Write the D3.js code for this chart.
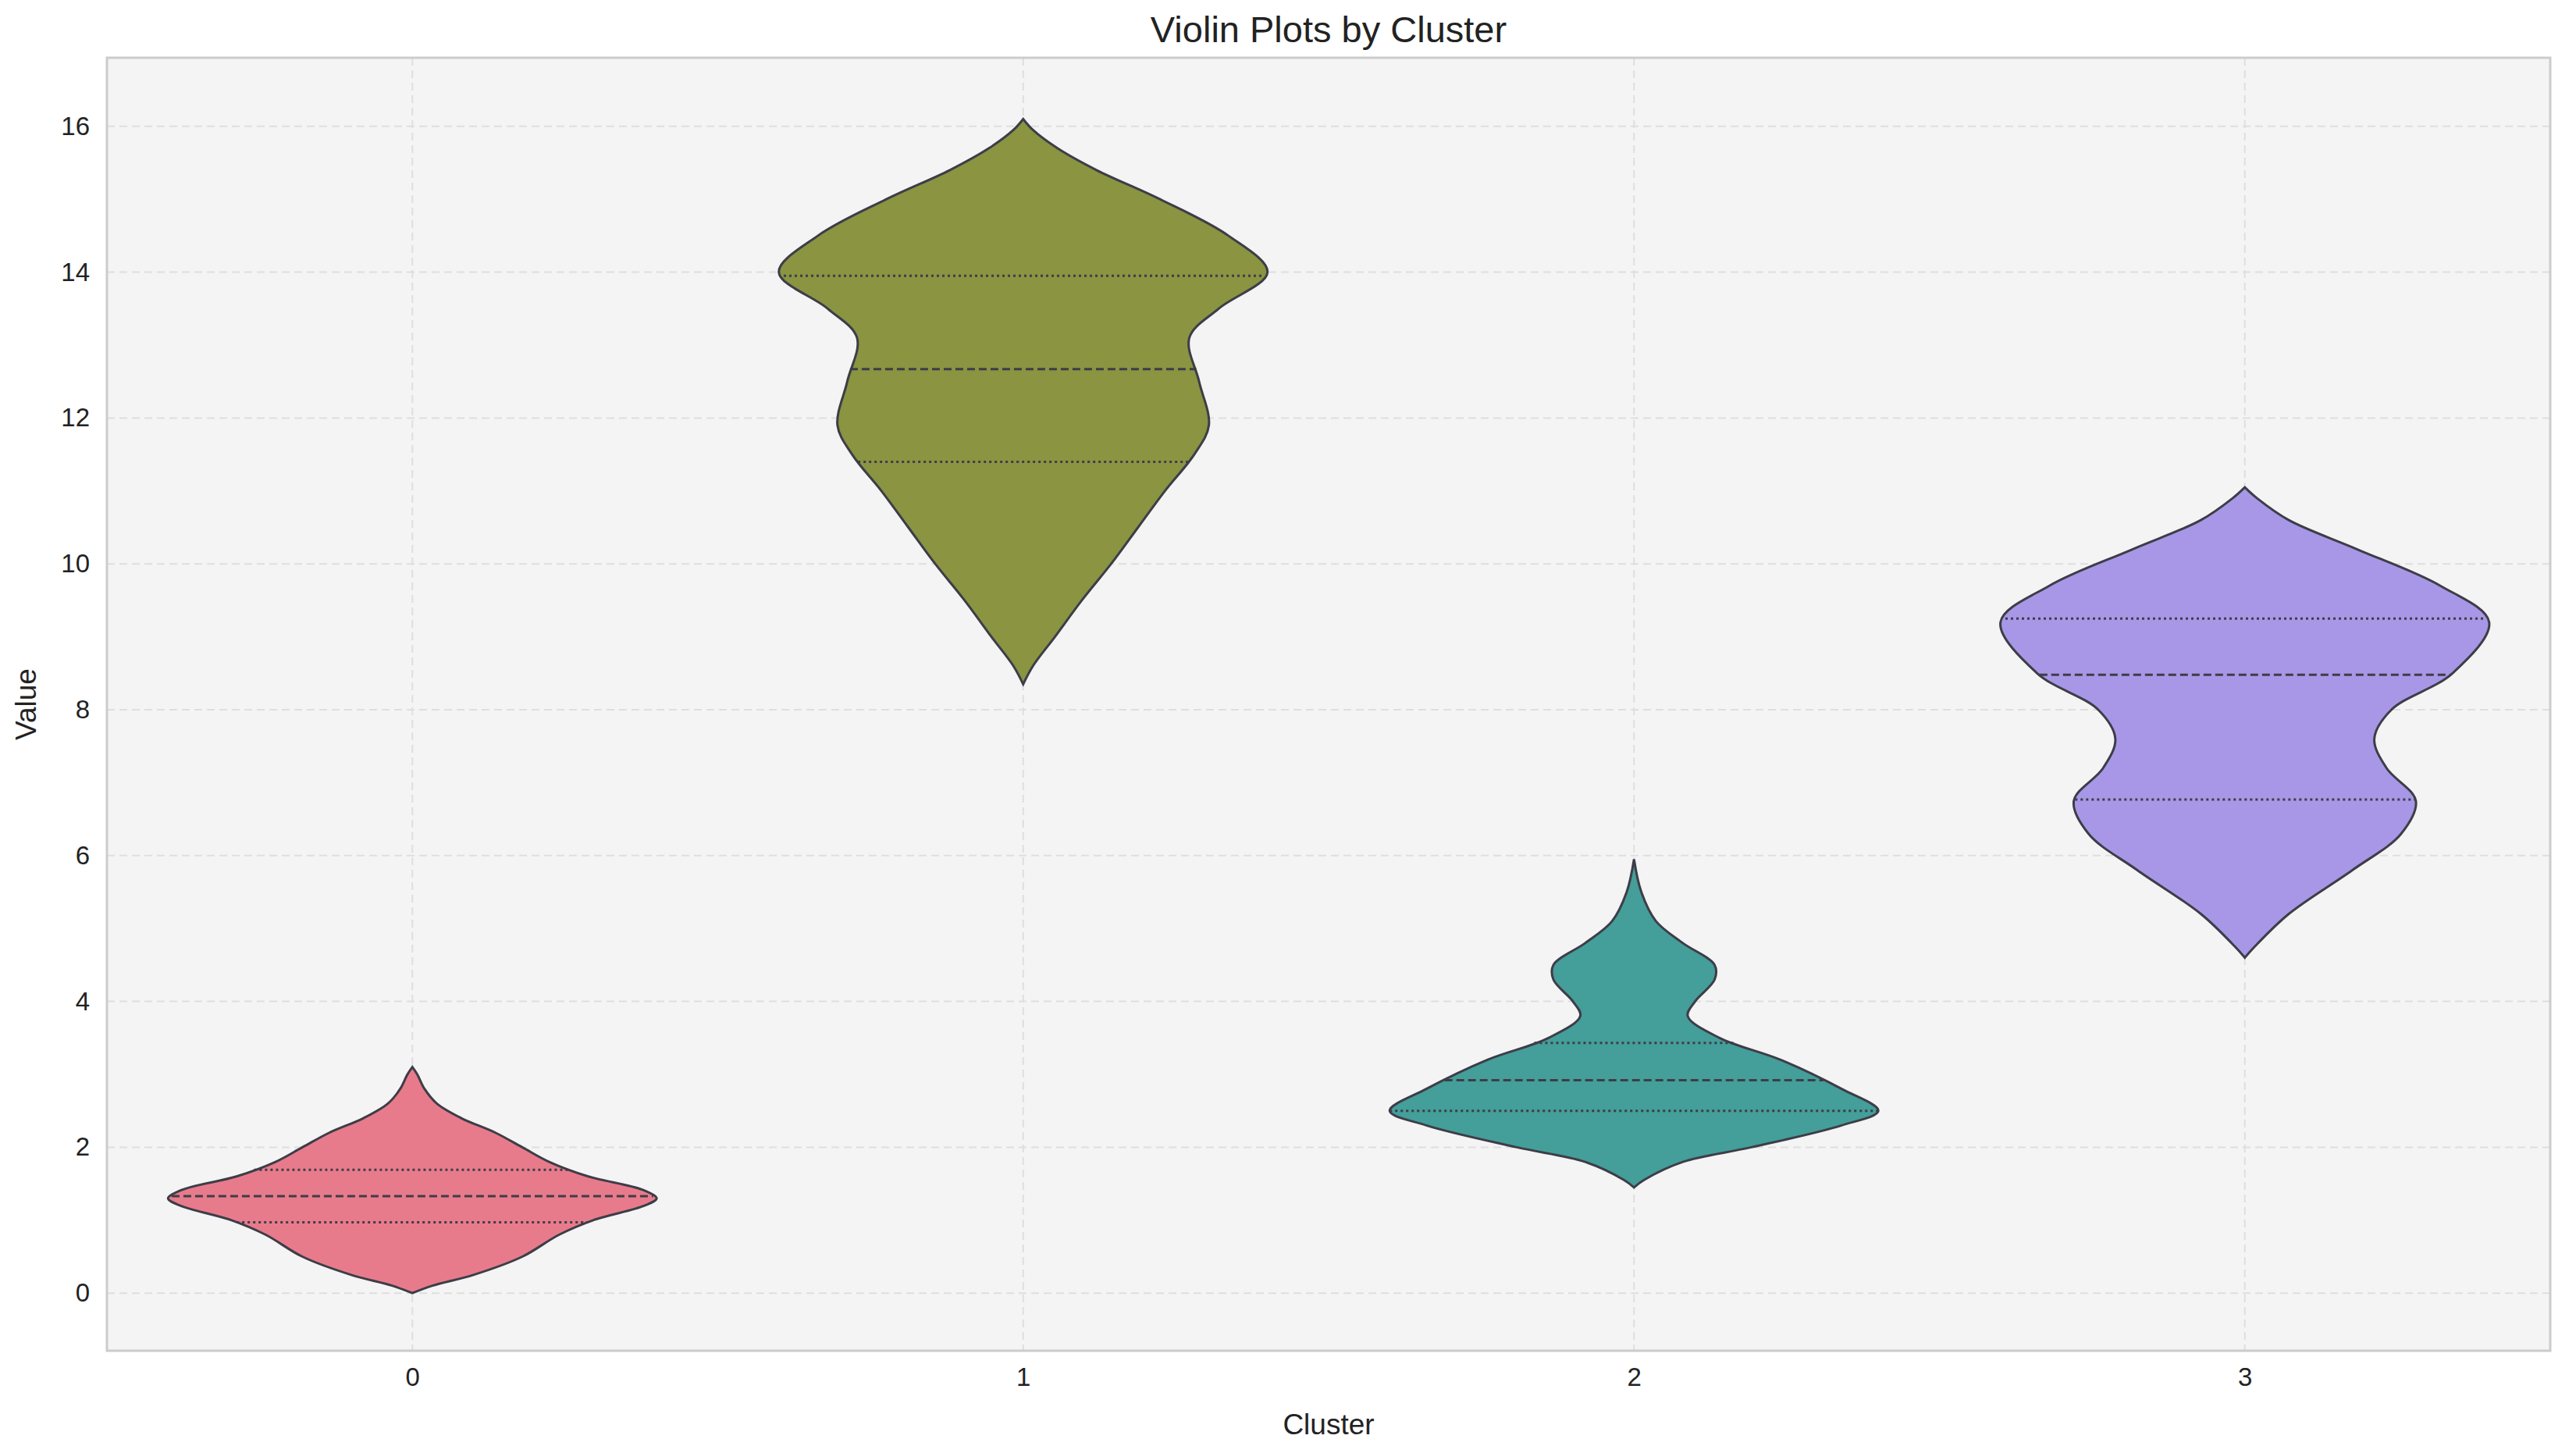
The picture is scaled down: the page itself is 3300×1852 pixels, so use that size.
<!DOCTYPE html>
<html>
<head>
<meta charset="utf-8">
<script src="https://cdn.jsdelivr.net/npm/d3@7"></script>
<style>
  body { margin: 0; background: #fff; font-family: Arial, "Liberation Sans", sans-serif; }
</style>
</head>
<body>
<svg id="chart" width="3300" height="1852"></svg>
<script>
// clusters and their colours
const clusters = ["0", "1", "2", "3"];
const colors = ["#e87b8b", "#8a9441", "#449e99", "#a897e6"];

// violin outlines: value and relative half width
const profile0 = [[0,0],[0.1,0.08],[0.25,0.25],[0.5,0.45],[0.8,0.6],[1.0,0.74],[1.2,0.95],[1.3,1.0],[1.42,0.94],[1.6,0.72],[1.8,0.56],[2.0,0.45],[2.2,0.34],[2.4,0.2],[2.6,0.1],[2.8,0.05],[3.0,0.02],[3.1,0]];
const profile1 = [[8.35,0],[8.6,0.04],[9,0.13],[9.5,0.24],[10,0.36],[10.5,0.47],[11,0.58],[11.5,0.7],[11.9,0.76],[12.5,0.72],[13.1,0.68],[13.5,0.8],[14,1.0],[14.5,0.84],[15,0.56],[15.4,0.3],[15.7,0.14],[15.95,0.04],[16.1,0]];
const profile2 = [[1.45,0],[1.55,0.04],[1.8,0.2],[2.0,0.48],[2.3,0.85],[2.5,1.0],[2.8,0.85],[3.2,0.6],[3.5,0.35],[3.8,0.22],[4.0,0.25],[4.3,0.33],[4.5,0.33],[4.8,0.2],[5.1,0.09],[5.5,0.03],[5.95,0]];
const profile3 = [[4.6,0],[4.75,0.04],[5.2,0.18],[5.8,0.44],[6.3,0.64],[6.75,0.7],[7.2,0.58],[7.6,0.53],[8.0,0.6],[8.5,0.85],[9.2,1.0],[9.7,0.8],[10.2,0.46],[10.6,0.18],[10.9,0.05],[11.05,0]];
const profiles = [profile0, profile1, profile2, profile3];

// quartiles [q1, median, q3]
const quartiles = [[0.97,1.33,1.69],[11.4,12.67,13.95],[2.5,2.92,3.43],[6.77,8.48,9.25]];
const yTicks = [0, 2, 4, 6, 8, 10, 12, 14, 16];

const svg = d3.select("#chart");
const margin = { top: 74, right: 33, bottom: 122, left: 137 };
const width = 3300, height = 1852;

const x = d3.scaleLinear().domain([-0.5, 3.5]).range([margin.left, width - margin.right]);
const y = d3.scaleLinear().domain([-0.79, 16.94]).range([height - margin.bottom, margin.top]);
const halfMax = (x(1) - x(0)) * 0.4;

svg.append("rect")
  .attr("x", margin.left).attr("y", margin.top)
  .attr("width", width - margin.left - margin.right)
  .attr("height", height - margin.top - margin.bottom)
  .attr("fill", "#f4f4f4");

// grid
svg.append("g").selectAll("line").data(yTicks).join("line")
  .attr("x1", margin.left).attr("x2", width - margin.right)
  .attr("y1", d => y(d)).attr("y2", d => y(d))
  .attr("stroke", "#dedede").attr("stroke-width", 2).attr("stroke-dasharray", "10,6");
svg.append("g").selectAll("line").data(clusters).join("line")
  .attr("x1", (d, i) => x(i)).attr("x2", (d, i) => x(i))
  .attr("y1", margin.top).attr("y2", height - margin.bottom)
  .attr("stroke", "#dedede").attr("stroke-width", 2).attr("stroke-dasharray", "10,6");

// violins
const lookup = (prof, v) => {
  const i = d3.bisector(d => d[0]).left(prof, v);
  const a = prof[Math.max(0, i - 1)], b = prof[Math.min(prof.length - 1, i)];
  if (a === b) return a[1];
  return a[1] + (b[1] - a[1]) * (v - a[0]) / (b[0] - a[0]);
};

profiles.forEach((prof, i) => {
  const cx = x(i);
  const area = d3.area()
    .y(d => y(d[0]))
    .x0(d => cx - d[1] * halfMax)
    .x1(d => cx + d[1] * halfMax)
    .curve(d3.curveCatmullRom);
  svg.append("path").datum(prof).attr("d", area)
    .attr("fill", colors[i]).attr("stroke", "#3d3d48").attr("stroke-width", 3);

  quartiles[i].forEach((q, k) => {
    const w = lookup(prof, q) * halfMax;
    svg.append("line")
      .attr("x1", cx - w).attr("x2", cx + w)
      .attr("y1", y(q)).attr("y2", y(q))
      .attr("stroke", "#3d3d48").attr("stroke-width", 3)
      .attr("stroke-dasharray", k === 1 ? "10,5" : "3,4");
  });
});

// frame
svg.append("rect")
  .attr("x", margin.left).attr("y", margin.top)
  .attr("width", width - margin.left - margin.right)
  .attr("height", height - margin.top - margin.bottom)
  .attr("fill", "none").attr("stroke", "#cccccc").attr("stroke-width", 3);

// axes
const yAxis = svg.append("g").attr("transform", `translate(${margin.left},0)`)
  .call(d3.axisLeft(y).tickValues(yTicks).tickSize(0).tickPadding(22));
yAxis.select(".domain").remove();
yAxis.selectAll("text").style("font-size", "33px").attr("fill", "#222");

const xAxis = svg.append("g").attr("transform", `translate(0,${height - margin.bottom})`)
  .call(d3.axisBottom(x).tickValues([0, 1, 2, 3]).tickFormat((d) => clusters[d]).tickSize(0).tickPadding(22));
xAxis.select(".domain").remove();
xAxis.selectAll("text").style("font-size", "33px").attr("fill", "#222");

svg.append("text").attr("x", (margin.left + width - margin.right) / 2).attr("y", 1837)
  .attr("text-anchor", "middle").style("font-size", "37px").attr("fill", "#222").text("Cluster");
svg.append("text").attr("transform", `translate(46,${(margin.top + height - margin.bottom) / 2}) rotate(-90)`)
  .attr("text-anchor", "middle").style("font-size", "37px").attr("fill", "#222").text("Value");
svg.append("text").attr("x", (margin.left + width - margin.right) / 2).attr("y", 54)
  .attr("text-anchor", "middle").style("font-size", "47px").attr("fill", "#222").text("Violin Plots by Cluster");
</script>
</body>
</html>
